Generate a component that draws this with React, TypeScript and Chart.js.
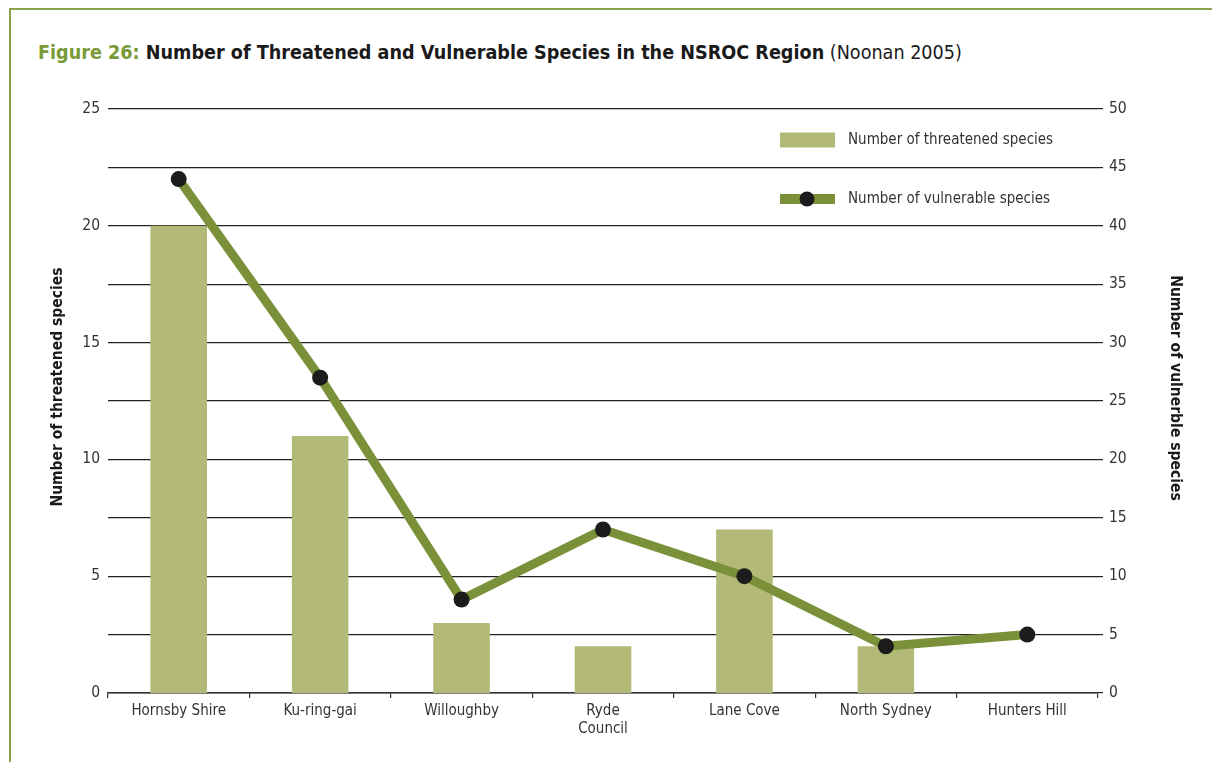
import React, { useEffect, useRef } from "react";
import { Chart, registerables } from "chart.js";

Chart.register(...registerables);

// Councils of the NSROC region (x axis)
const councils: (string | string[])[] = [
  "Hornsby Shire",
  "Ku-ring-gai",
  "Willoughby",
  ["Ryde", "Council"],
  "Lane Cove",
  "North Sydney",
  "Hunters Hill",
];

// Number of threatened species per council (left axis, bars)
const threatenedSpecies = [20, 11, 3, 2, 7, 2, 0];

// Number of vulnerable species per council (right axis, line)
const vulnerableSpecies = [44, 27, 8, 14, 10, 4, 5];

// Axis ranges
const threatenedMax = 25;
const threatenedStep = 5;
const vulnerableMax = 50;
const vulnerableStep = 5;

const FONT = '"Liberation Sans Narrow", "DejaVu Sans Condensed", "Open Sans", sans-serif';
const TEXT = "#333333";
const BAR_COLOR = "#b3b977";
const LINE_COLOR = "#7b9139";
const POINT_COLOR = "#1c1c1c";
const FRAME_GREEN = "#8aa24c";

const legendAndTitles = {
  id: "legendAndTitles",
  afterDraw(chart: any) {
    const { ctx, chartArea } = chart;
    ctx.save();

    // Axis titles
    ctx.fillStyle = "#1a1a1a";
    ctx.font = `bold 15.5px ${FONT}`;
    ctx.textAlign = "center";
    ctx.textBaseline = "middle";

    ctx.save();
    ctx.translate(58, 387);
    ctx.rotate(-Math.PI / 2);
    ctx.fillText("Number of threatened species", 0, 0);
    ctx.restore();

    ctx.save();
    ctx.translate(1175, 388);
    ctx.rotate(Math.PI / 2);
    ctx.fillText("Number of vulnerble species", 0, 0);
    ctx.restore();

    // Legend inside the top-right of the plot
    const x0 = chartArea.right - 318;
    const barY = chartArea.top + 31;
    const lineY = chartArea.top + 90;
    const swatchW = 55;

    ctx.fillStyle = chart.data.datasets[0].backgroundColor;
    ctx.fillRect(x0, barY - 7.5, swatchW, 15);

    ctx.fillStyle = chart.data.datasets[1].borderColor;
    ctx.fillRect(x0, lineY - 5, swatchW, 10);
    ctx.beginPath();
    ctx.arc(x0 + 27, lineY, 7.5, 0, Math.PI * 2);
    ctx.fillStyle = POINT_COLOR;
    ctx.fill();

    ctx.fillStyle = TEXT;
    ctx.font = `15px ${FONT}`;
    ctx.textAlign = "left";
    ctx.fillText(chart.data.datasets[0].label, x0 + 68, barY);
    ctx.fillText(chart.data.datasets[1].label, x0 + 68, lineY);

    ctx.restore();
  },
};

export default function App() {
  const canvasRef = useRef<HTMLCanvasElement | null>(null);

  useEffect(() => {
    if (!canvasRef.current) return;
    const chart = new Chart(canvasRef.current, {
      type: "bar",
      data: {
        labels: councils,
        datasets: [
          {
            type: "bar",
            label: "Number of threatened species",
            data: threatenedSpecies,
            backgroundColor: BAR_COLOR,
            yAxisID: "y",
            categoryPercentage: 1,
            barPercentage: 0.4,
            order: 2,
          },
          {
            type: "line",
            label: "Number of vulnerable species",
            data: vulnerableSpecies,
            borderColor: LINE_COLOR,
            borderWidth: 9,
            backgroundColor: LINE_COLOR,
            pointBackgroundColor: POINT_COLOR,
            pointBorderWidth: 0,
            pointRadius: 8,
            pointHoverRadius: 8,
            tension: 0,
            yAxisID: "y1",
            order: 1,
          } as any,
        ],
      },
      options: {
        responsive: false,
        animation: false,
        events: [],
        layout: { padding: { top: 109, left: 0, right: 0, bottom: 0 } },
        plugins: {
          legend: { display: false },
          title: { display: false },
          tooltip: { enabled: false },
        },
        scales: {
          x: {
            offset: true,
            grid: {
              display: true,
              drawOnChartArea: false,
              drawTicks: true,
              tickLength: 5,
              offset: true,
              color: "#333333",
              lineWidth: 1.2,
            },
            border: { display: true, color: "#333333", width: 1.5 },
            ticks: {
              color: TEXT,
              font: { family: FONT, size: 15 },
              padding: 4,
              maxRotation: 0,
              autoSkip: false,
            },
            afterFit: (scale: any) => {
              scale.height = 69;
            },
          },
          y: {
            position: "left",
            min: 0,
            max: threatenedMax,
            grid: { display: false, drawTicks: false },
            border: { display: false },
            ticks: {
              stepSize: threatenedStep,
              color: TEXT,
              font: { family: FONT, size: 15.5 },
              padding: 8,
            },
            afterFit: (scale: any) => {
              scale.width = 108;
            },
          },
          y1: {
            position: "right",
            min: 0,
            max: vulnerableMax,
            grid: {
              display: true,
              drawOnChartArea: true,
              drawTicks: true,
              tickLength: 5,
              color: "#222222",
              lineWidth: 1.2,
            },
            border: { display: false },
            ticks: {
              stepSize: vulnerableStep,
              color: TEXT,
              font: { family: FONT, size: 15.5 },
              padding: 6,
            },
            afterFit: (scale: any) => {
              scale.width = 114;
            },
          },
        },
      },
      plugins: [legendAndTitles],
    });
    return () => chart.destroy();
  }, []);

  return (
    <div
      style={{
        position: "fixed",
        left: 0,
        top: 0,
        width: 1212,
        height: 762,
        background: "#ffffff",
        overflow: "hidden",
      }}
    >
      <div
        style={{
          position: "absolute",
          left: 9,
          top: 8,
          width: 1212,
          height: 770,
          borderTop: `2.5px solid ${FRAME_GREEN}`,
          borderLeft: `2.5px solid ${FRAME_GREEN}`,
          boxSizing: "border-box",
        }}
      />
      <div
        style={{
          position: "absolute",
          left: 38,
          top: 40,
          fontFamily: FONT,
          fontSize: 19.6,
          lineHeight: "26px",
          color: "#1a1a1a",
          whiteSpace: "nowrap",
        }}
      >
        <span style={{ fontWeight: "bold", color: "#7a9a38" }}>Figure 26: </span>
        <span style={{ fontWeight: "bold" }}>
          Number of Threatened and Vulnerable Species in the NSROC Region
        </span>
        <span> (Noonan 2005)</span>
      </div>
      <canvas
        ref={canvasRef}
        width={1212}
        height={762}
        style={{ position: "absolute", left: 0, top: 0, width: 1212, height: 762 }}
      />
    </div>
  );
}
